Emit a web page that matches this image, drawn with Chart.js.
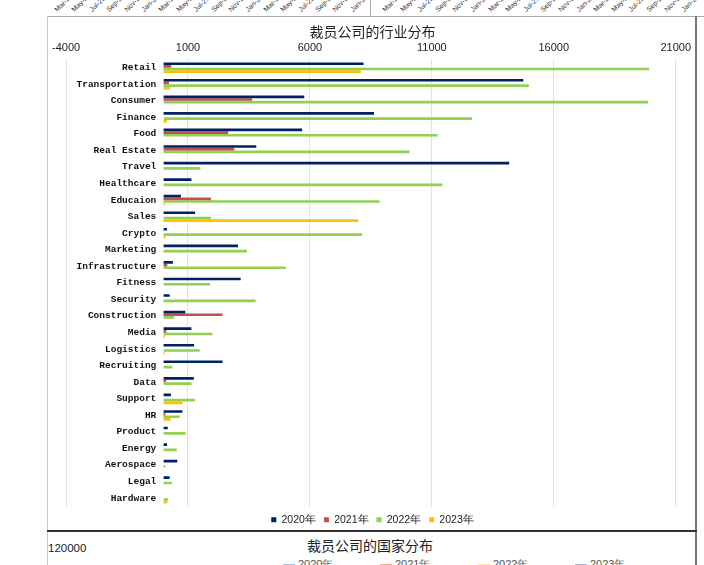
<!DOCTYPE html>
<html>
<head>
<meta charset="utf-8">
<script src="https://cdn.jsdelivr.net/npm/chart.js@4.4.1/dist/chart.umd.min.js"></script>
<style>
  html,body{margin:0;padding:0;background:#fff;}
  body{width:704px;height:565px;position:relative;overflow:hidden;font-family:"Liberation Sans",Arial,sans-serif;}
  .ln{position:absolute;}
  .dl{position:absolute;font-size:7px;color:#333;white-space:nowrap;transform-origin:left bottom;transform:rotate(-45deg);line-height:7px;}
  #wrap{position:absolute;left:48px;top:17px;width:647px;height:518px;}
  .txt{position:absolute;white-space:nowrap;color:#222;}
</style>
</head>
<body>
<div id="tops"></div>
<div class="ln" style="left:370px;top:0;width:1px;height:16px;background:#aaa;"></div>
<div class="ln" style="left:47px;top:16px;width:657px;height:1px;background:#aaa;"></div>
<div class="ln" style="left:47px;top:16px;width:1px;height:549px;background:#c8c8c8;"></div>
<div class="ln" style="left:695px;top:16px;width:2px;height:549px;background:#777;"></div>
<div id="wrap"><canvas id="c"></canvas></div>
<div class="ln" style="left:47px;top:530px;width:650px;height:2px;background:#333;"></div>
<div class="txt" style="left:48px;top:542px;font-size:11.5px;">120000</div>
<div class="txt" id="nt" style="left:300px;top:535px;width:140px;text-align:center;font-family:'Noto Sans CJK SC';font-size:14px;"></div>
<div id="bl"></div>
<script>
// ---- data ----
const categories = ['Retail','Transportation','Consumer','Finance','Food','Real Estate','Travel','Healthcare','Educaion','Sales','Crypto','Marketing','Infrastructure','Fitness','Security','Construction','Media','Logistics','Recruiting','Data','Support','HR','Product','Energy','Aerospace','Legal','Hardware'];
const seriesNames = ['2020年','2021年','2022年','2023年'];
const v2020 = [8200,14750,5770,8630,5680,3800,14170,1140,710,1290,140,3050,380,3160,250,890,1140,1250,2420,1240,300,770,170,140,560,250,0];
const v2021 = [310,220,3630,0,2650,2900,0,0,1940,0,0,0,150,0,0,2420,110,0,0,100,0,70,0,0,0,0,0];
const v2022 = [19910,14980,19870,12650,11230,10080,1510,11430,8860,1940,8140,3420,5010,1910,3770,420,2000,1480,360,1140,1290,660,900,540,70,340,180];
const v2023 = [8090,270,0,140,0,0,0,0,50,7980,60,0,0,0,0,0,50,40,0,0,780,290,0,0,0,0,150];
const xTicks = [-4000,1000,6000,11000,16000,21000];
const chartTitle = '裁员公司的行业分布';
const nextTitle = '裁员公司的国家分布';
const monthLabels = ['Mar-20','May-20','Jul-20','Sep-20','Nov-20','Jan-21','Mar-21','May-21','Jul-21','Sep-21','Nov-21','Jan-22','Mar-22','May-22','Jul-22','Sep-22','Nov-22','Jan-23'];
const colors = ['#002060','#C0504D','#92D050','#FFC000'];
const paleColors = ['#9dc3e6','#f4b183','#ffe699','#b4b4e6'];

// ---- cropped neighbours (top date labels, bottom legend) ----
(function(){
  document.getElementById('nt').textContent = nextTitle;
  const tops = document.getElementById('tops');
  const panels = [[58,17.4],[386,17.6]];
  panels.forEach(([x0,step])=>{
    monthLabels.forEach((t,i)=>{
      const s = document.createElement('span');
      s.className='dl'; s.textContent=t;
      s.style.left=(x0+i*step)+'px'; s.style.top='6px';
      tops.appendChild(s);
    });
  });
  const bl = document.getElementById('bl');
  const xs=[283,380,478,575];
  seriesNames.forEach((n,i)=>{
    const d=document.createElement('div');
    d.className='txt';
    d.style.left=xs[i]+'px'; d.style.top='557px'; d.style.fontSize='11px'; d.style.color='#555';
    d.innerHTML='<span style="display:inline-block;width:12px;height:2px;background:'+paleColors[i]+';vertical-align:middle;margin-right:3px"></span>'+n;
    bl.appendChild(d);
  });
})();

const datasets = [v2020,v2021,v2022,v2023].map((arr,i)=>({
  label: seriesNames[i],
  data: arr,
  backgroundColor: colors[i],
  borderWidth: 0,
  categoryPercentage: 0.64,
  barPercentage: 1.0
}));

new Chart(document.getElementById('c'), {
  type: 'bar',
  data: { labels: categories, datasets },
  options: {
    indexAxis: 'y',
    responsive: true,
    maintainAspectRatio: false,
    animation: false,
    layout: { padding: { left: 5, right: 3, top: 0, bottom: 0 } },
    plugins: {
      title: {
        display: true, text: chartTitle, color: '#222',
        font: { family: "'Noto Sans CJK SC'", size: 14, weight: 'normal', lineHeight: 1.0 },
        padding: { top: 8, bottom: -3 }
      },
      legend: {
        position: 'bottom',
        labels: {
          boxWidth: 5, boxHeight: 5, padding: 8, color: '#222',
          font: { family: "'Liberation Sans'", size: 10.5 }
        }
      },
      tooltip: { enabled: false }
    },
    scales: {
      x: {
        type: 'linear',
        position: 'top',
        min: -4000, max: 21000,
        afterBuildTicks: (s) => { s.ticks = xTicks.map(v => ({ value: v })); },
        grid: { color: '#e3e3e3', drawTicks: false, lineWidth: 1 },
        border: { display: false },
        ticks: { color: '#222', padding: 4, callback: (v) => String(v),
          font: { family: "'Liberation Sans'", size: 11, lineHeight: 1.4 } }
      },
      y: {
        type: 'category',
        position: { x: -300 },
        afterFit: (s) => { s.width = 0; },
        grid: { display: false, drawTicks: false },
        border: { display: false },
        ticks: { color: '#111', padding: 0, autoSkip: false,
          font: { family: "'Liberation Mono'", size: 9.5, weight: 'bold' } }
      }
    }
  }
});
</script>
</body>
</html>
